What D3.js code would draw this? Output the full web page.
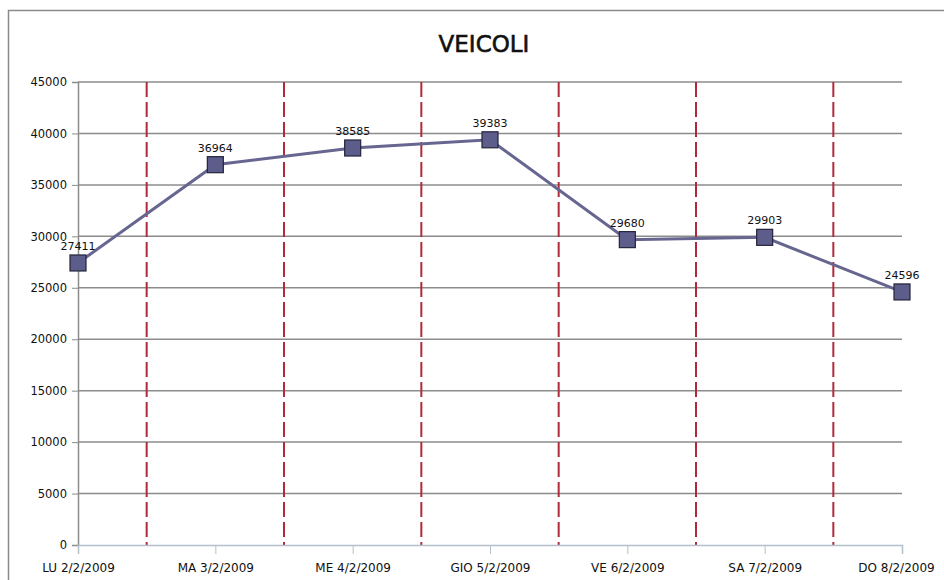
<!DOCTYPE html>
<html>
<head>
<meta charset="utf-8">
<script src="https://cdn.jsdelivr.net/npm/d3@7"></script>
<style>
  body { margin: 0; background: #fff; }
  text { font-family: Tahoma, "DejaVu Sans", sans-serif; }
</style>
</head>
<body>
<svg id="chart" width="944" height="580"></svg>
<script>
const categories = ['LU 2/2/2009', 'MA 3/2/2009', 'ME 4/2/2009', 'GIO 5/2/2009', 'VE 6/2/2009', 'SA 7/2/2009', 'DO 8/2/2009'];
const values = [27411, 36964, 38585, 39383, 29680, 29903, 24596];
const yTicks = [0, 5000, 10000, 15000, 20000, 25000, 30000, 35000, 40000, 45000];

const svg = d3.select('#chart');
const margin = {top: 82, right: 42, bottom: 35, left: 78};
const width = 944 - margin.left - margin.right;
const height = 580 - margin.top - margin.bottom;

// outer frame
svg.append('rect')
  .attr('x', 8.5).attr('y', 10.5)
  .attr('width', 944).attr('height', 600)
  .attr('fill', 'none')
  .attr('stroke', '#8a8a8a')
  .attr('stroke-width', 1.5);

const g = svg.append('g').attr('transform', `translate(${margin.left},${margin.top})`);

const x = d3.scalePoint().domain(categories).range([0, width]);
const y = d3.scaleLinear().domain([0, 45000]).range([height, 0]);
const step = x.step();

// horizontal gridlines
g.append('g')
  .selectAll('line')
  .data(yTicks.filter(d => d > 0))
  .join('line')
  .attr('x1', 0).attr('x2', width)
  .attr('y1', d => y(d)).attr('y2', d => y(d))
  .attr('stroke', '#8c8c8c')
  .attr('stroke-width', 1.5);

// red dashed separators between days
g.append('g')
  .selectAll('line')
  .data(categories.slice(0, -1))
  .join('line')
  .attr('x1', d => x(d) + step / 2).attr('x2', d => x(d) + step / 2)
  .attr('y1', 0).attr('y2', height)
  .attr('stroke', '#b02a3c')
  .attr('stroke-width', 2)
  .attr('stroke-dasharray', '15,5');

// y axis
const yAxis = g.append('g')
  .call(d3.axisLeft(y).tickValues(yTicks).tickSize(6).tickFormat(d3.format('d')));
yAxis.select('.domain').attr('stroke', '#8c8c8c').attr('stroke-width', 1.5);
yAxis.selectAll('.tick line').attr('stroke', '#8c8c8c');
yAxis.selectAll('.tick text')
  .attr('x', -11)
  .style('font-size', '11.5px')
  .attr('fill', '#111');

// x axis
const xAxis = g.append('g')
  .attr('transform', `translate(0,${height})`)
  .call(d3.axisBottom(x).tickSize(9).tickPadding(9));
xAxis.select('.domain').attr('stroke', '#b4c0cc').attr('stroke-width', 1.5);
xAxis.selectAll('.tick line').attr('stroke', '#b4c0cc');
xAxis.selectAll('.tick text')
  .style('font-size', '12px')
  .attr('fill', '#111');
xAxis.selectAll('.tick text').filter(d => d === categories[categories.length - 1])
  .attr('dx', '-6');

// line
const line = d3.line()
  .x((d, i) => x(categories[i]))
  .y(d => y(d));

g.append('path')
  .datum(values)
  .attr('d', line)
  .attr('fill', 'none')
  .attr('stroke', '#666690')
  .attr('stroke-width', 3);

// markers
const ms = 16;
g.selectAll('.marker')
  .data(values)
  .join('rect')
  .attr('class', 'marker')
  .attr('x', (d, i) => x(categories[i]) - ms / 2)
  .attr('y', d => y(d) - ms / 2)
  .attr('width', ms).attr('height', ms)
  .attr('fill', '#5d5d8c')
  .attr('stroke', '#23233a')
  .attr('stroke-width', 1.2);

// data labels
g.selectAll('.label')
  .data(values)
  .join('text')
  .attr('class', 'label')
  .attr('x', (d, i) => x(categories[i]))
  .attr('y', d => y(d) - ms / 2 - 5)
  .attr('text-anchor', 'middle')
  .style('font-size', '11px')
  .attr('fill', '#111')
  .text(d => d);

// title
svg.append('text')
  .attr('x', 484)
  .attr('y', 52)
  .attr('text-anchor', 'middle')
  .style('font-size', '23px')
  .attr('fill', '#111')
  .attr('stroke', '#111')
  .attr('stroke-width', 0.6)
  .text('VEICOLI');
</script>
</body>
</html>
